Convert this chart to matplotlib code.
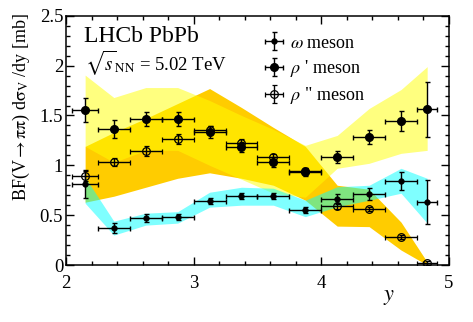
import numpy as np
import matplotlib
matplotlib.use("Agg")
import matplotlib.pyplot as plt
from matplotlib.ticker import MultipleLocator

plt.rcParams['font.family'] = ['Liberation Serif', 'DejaVu Serif']
plt.rcParams['mathtext.fontset'] = 'stix'

# rapidity bins
y_c  = [2.15, 2.375, 2.625, 2.875, 3.125, 3.375, 3.625, 3.875, 4.125, 4.375, 4.625, 4.83]
y_lo = [2.05, 2.25, 2.5, 2.75, 3.0, 3.25, 3.5, 3.75, 4.0, 4.25, 4.5, 4.75]
y_hi = [2.25, 2.5, 2.75, 3.0, 3.25, 3.5, 3.75, 4.0, 4.25, 4.5, 4.75, 4.91]

# omega
om     = [0.81, 0.368, 0.475, 0.485, 0.642, 0.692, 0.695, 0.552, 0.659, 0.709, 0.846, 0.63]
om_err = [0.14, 0.05, 0.04, 0.03, 0.03, 0.03, 0.03, 0.03, 0.05, 0.06, 0.09, 0.22]
om_band_lo = [0.62, 0.30, 0.40, 0.42, 0.58, 0.60, 0.60, 0.485, 0.585, 0.65, 0.72, 0.42]
om_band_hi = [0.88, 0.44, 0.52, 0.535, 0.73, 0.78, 0.77, 0.65, 0.785, 0.80, 0.97, 0.87]

# rho'
r1     = [1.555, 1.364, 1.464, 1.464, 1.33, 1.18, 1.03, 0.93, 1.08, 1.287, 1.444, 1.56]
r1_err = [0.125, 0.09, 0.07, 0.07, 0.06, 0.05, 0.05, 0.04, 0.06, 0.07, 0.10, 0.28]
r1_band_lo = [1.19, 1.03, 1.15, 1.15, 1.0, 0.86, 0.72, 0.68, 0.97, 1.02, 1.12, 1.15]
r1_band_hi = [1.905, 1.68, 1.78, 1.78, 1.65, 1.50, 1.36, 1.20, 1.30, 1.57, 1.76, 1.99]

# rho''
r2     = [0.893, 1.036, 1.146, 1.26, 1.354, 1.22, 1.08, 0.94, 0.595, 0.558, 0.284, 0.017]
r2_err = [0.05, 0.04, 0.05, 0.05, 0.04, 0.04, 0.03, 0.03, 0.03, 0.02, 0.02, 0.02]
r2_band_lo = [0.63, 0.69, 0.78, 0.87, 0.925, 0.87, 0.80, 0.65, 0.39, 0.385, 0.15, 0.0]
r2_band_hi = [1.19, 1.33, 1.47, 1.62, 1.77, 1.58, 1.38, 1.19, 0.80, 0.76, 0.43, 0.03]

fig = plt.figure(figsize=(4.73, 3.22), dpi=100)
ax = fig.add_axes([0.1395, 0.177, 0.8095, 0.774])

xc = np.array(y_c)
xerr = [xc - np.array(y_lo), np.array(y_hi) - xc]

ax.fill_between(xc, r2_band_lo, r2_band_hi, color='#ffcc00', lw=0, zorder=1)
ax.fill_between(xc, r1_band_lo, r1_band_hi, color='#ffff00', alpha=0.5, lw=0, zorder=2)
ax.fill_between(xc, om_band_lo, om_band_hi, color='#00ffff', alpha=0.5, lw=0, zorder=3)

kw = dict(ls='none', color='black', elinewidth=1.0, capsize=1.8, capthick=1.0, zorder=5)
h_om = ax.errorbar(xc, om, yerr=om_err, xerr=xerr, marker='o', ms=3.5, **kw)
h_r1 = ax.errorbar(xc, r1, yerr=r1_err, xerr=xerr, marker='o', ms=5.5, **kw)
h_r2 = ax.errorbar(xc, r2, yerr=r2_err, xerr=xerr, marker='o', ms=5.5, mfc='none', mew=0.9, **kw)

ax.set_xlim(2, 5)
ax.set_ylim(0, 2.5)
ax.xaxis.set_major_locator(MultipleLocator(1))
ax.xaxis.set_minor_locator(MultipleLocator(0.2))
ax.yaxis.set_major_locator(MultipleLocator(0.5))
ax.yaxis.set_minor_locator(MultipleLocator(0.1))
ax.tick_params(which='both', direction='in', top=True, right=True, width=1.0, labelsize=13.5)
ax.tick_params(which='major', length=6)
ax.tick_params(which='minor', length=3)
ax.tick_params(axis='x', pad=7)
ax.tick_params(axis='y', pad=2)
ax.xaxis.set_major_formatter(plt.FuncFormatter(lambda v, p: '%g' % v))
ax.yaxis.set_major_formatter(plt.FuncFormatter(lambda v, p: '%g' % v))
for s in ax.spines.values():
    s.set_linewidth(1.1)

ax.text(-0.116, 1.01, r'BF(V$\rightarrow\mathrm{\pi\pi}$) d$\mathrm{\sigma}_{\rm V}$ /dy [mb]', rotation=90,
        ha='center', va='top', fontsize=13, transform=ax.transAxes)
ax.text(0.843, -0.092, '$y$', ha='center', va='top', fontsize=16, transform=ax.transAxes)

ax.text(0.047, 0.895, 'LHCb PbPb', fontsize=17, va='baseline', transform=ax.transAxes)
ax.text(0.05, 0.782, r'$\sqrt{s}_{\rm NN}$ = 5.02 TeV', fontsize=13.5, va='baseline', transform=ax.transAxes)

ax.legend([h_om, h_r1, h_r2], [r'$\omega$ meson', r"$\rho$ ' meson", r'$\rho$ " meson'],
          loc='upper left', bbox_to_anchor=(0.49, 0.975), frameon=False, fontsize=13,
          handlelength=0.9, handletextpad=0.4, labelspacing=0.35, borderpad=0.2)

fig.savefig('out.png', dpi=100)
